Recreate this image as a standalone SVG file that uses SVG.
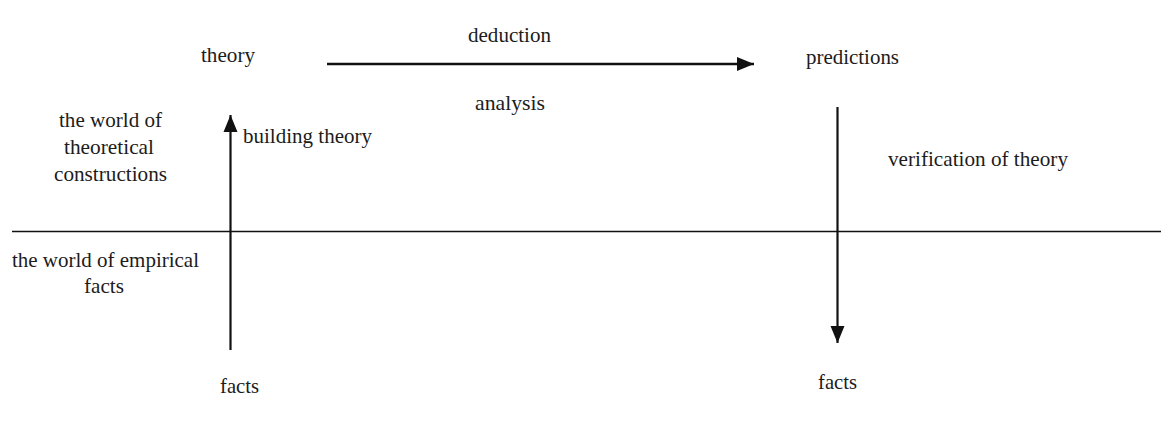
<svg xmlns="http://www.w3.org/2000/svg" width="1161" height="423" viewBox="0 0 1161 423">
<style>
text{font-family:"Liberation Serif","Times New Roman",serif;font-size:21px;fill:#1c1c1c}
.ln{stroke:#111;fill:none}
</style>
<defs>
<marker id="ah" markerUnits="userSpaceOnUse" markerWidth="18" markerHeight="16" refX="17" refY="8" orient="auto">
<path d="M0,1 L17,8 L0,15 Z" fill="#111"/>
</marker>
</defs>
<rect width="1161" height="423" fill="#fff"/>
<g id="connectors">
<line class="ln" x1="12" y1="231.5" x2="1161" y2="231.5" stroke-width="1.6"/>
<line class="ln" x1="327" y1="64" x2="754" y2="64" stroke-width="2.6" marker-end="url(#ah)"/>
<line class="ln" x1="230.5" y1="350" x2="230.5" y2="115" stroke-width="2.2" marker-end="url(#ah)"/>
<line class="ln" x1="837.5" y1="107" x2="837.5" y2="343" stroke-width="2.2" marker-end="url(#ah)"/>
</g>
<g id="theory"><text x="201" y="62" textLength="54" lengthAdjust="spacingAndGlyphs">theory</text></g>
<g id="deduction"><text x="468" y="42" textLength="83" lengthAdjust="spacingAndGlyphs">deduction</text></g>
<g id="analysis"><text x="475" y="110" textLength="70" lengthAdjust="spacingAndGlyphs">analysis</text></g>
<g id="predictions"><text x="806" y="64" textLength="93" lengthAdjust="spacingAndGlyphs">predictions</text></g>
<g id="theoretical-world">
<text x="59" y="127" textLength="103" lengthAdjust="spacingAndGlyphs">the world of</text>
<text x="64" y="154" textLength="90" lengthAdjust="spacingAndGlyphs">theoretical</text>
<text x="54" y="181" textLength="113" lengthAdjust="spacingAndGlyphs">constructions</text>
</g>
<g id="building-theory"><text x="243" y="143" textLength="129" lengthAdjust="spacingAndGlyphs">building theory</text></g>
<g id="verification"><text x="888" y="166" textLength="180" lengthAdjust="spacingAndGlyphs">verification of theory</text></g>
<g id="empirical-world">
<text x="12" y="267" textLength="187" lengthAdjust="spacingAndGlyphs">the world of empirical</text>
<text x="84" y="293" textLength="40" lengthAdjust="spacingAndGlyphs">facts</text>
</g>
<g id="facts-left"><text x="220" y="393" textLength="39" lengthAdjust="spacingAndGlyphs">facts</text></g>
<g id="facts-right"><text x="818" y="389" textLength="39" lengthAdjust="spacingAndGlyphs">facts</text></g>
</svg>
